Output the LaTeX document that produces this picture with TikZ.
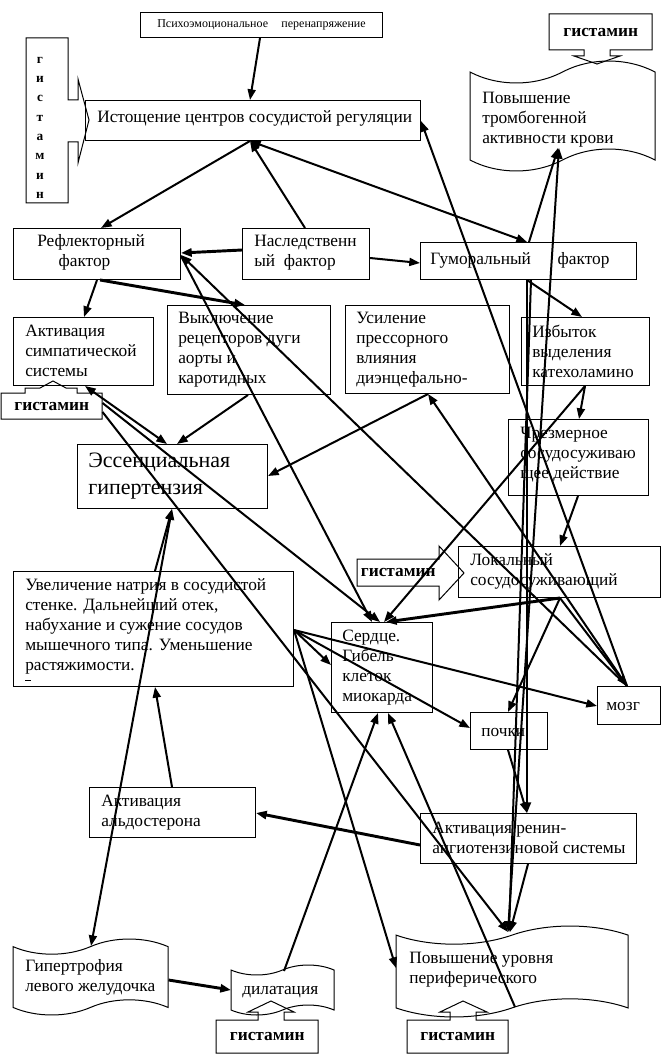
\documentclass[tikz,border=0pt]{standalone}
\usepackage{fontspec}
\setmainfont{Liberation Serif}
\usetikzlibrary{arrows.meta,calc}
\newcommand\fs{\fontsize{13}{15}\selectfont}
\newcommand\mkbox[5]{\node[bx,minimum width=#4*0.75pt,minimum height=#5*0.75pt] (#1) at (#2,#3) {};}
\newcommand\mkghost[5]{\node[ghost,minimum width=#4*0.75pt,minimum height=#5*0.75pt] (#1) at (#2,#3) {};}
\newcommand\mkhis[5]{\node[ghost,htxt,minimum width=#4*0.75pt,minimum height=#5*0.75pt] (#1) at (#2,#3) {гистамин};}
\newcommand\tapeshape[4]{%
 \draw[shp] (#1,{#2+0.1*#4})
  .. controls ({#1+0.15*#3},{#2+0.233*#4}) and ({#1+0.35*#3},{#2+0.233*#4}) .. ({#1+0.5*#3},{#2+0.1*#4})
  .. controls ({#1+0.65*#3},{#2-0.033*#4}) and ({#1+0.85*#3},{#2-0.033*#4}) .. ({#1+#3},{#2+0.1*#4})
  -- ({#1+#3},{#2+0.9*#4})
  .. controls ({#1+0.85*#3},{#2+0.767*#4}) and ({#1+0.65*#3},{#2+0.767*#4}) .. ({#1+0.5*#3},{#2+0.9*#4})
  .. controls ({#1+0.35*#3},{#2+1.033*#4}) and ({#1+0.15*#3},{#2+1.033*#4}) .. (#1,{#2+0.9*#4})
  -- cycle;}
\tikzset{
 bx/.style={draw, line width=0.75pt, inner sep=0pt, anchor=north west},
 ghost/.style={inner sep=0pt, anchor=north west},
 shp/.style={draw, line width=0.75pt},
 txt/.style={anchor=north west, inner sep=0pt, align=left, font=\fs, yshift=10pt, execute at begin node={\rule{0pt}{10pt}}},
 txtL/.style={anchor=north west, inner sep=0pt, align=left, font=\fontsize{16.5}{20}\selectfont, yshift=13pt, execute at begin node={\rule{0pt}{13pt}}},
 htxt/.style={font=\bfseries\fontsize{13}{15}\selectfont},
 arr/.style={line width=1.5pt, -{Triangle[length=8pt,width=6pt]}},
 darr/.style={line width=1.5pt, {Triangle[length=8pt,width=6pt]}-{Triangle[length=8pt,width=6pt]}},
 thk/.style={line width=2.2pt},
}
\begin{document}
\begin{tikzpicture}[x=0.75pt,y=-0.75pt]
\useasboundingbox (0,0) rectangle (662,1055);
\fill[white] (0,0) rectangle (662,1055);
% boxes
\mkbox{psy}{140}{12}{242}{25}
\mkbox{exhaust}{85}{100}{335}{40}
\mkbox{reflex}{13}{228}{167}{51}
\mkbox{hered}{242}{228}{127}{51}
\mkbox{humor}{420}{242}{216}{37}
\mkbox{symp}{13}{317}{140}{68}
\mkbox{recept}{167}{305}{163}{89}
\mkbox{press}{345}{305}{164}{88}
\mkbox{catech}{521}{317}{128}{68}
\mkbox{ess}{77}{444}{190}{64}
\mkbox{vaso}{508}{419}{140}{76}
\mkbox{local}{458}{546}{202}{51}
\mkbox{sodium}{13}{571}{280}{115}
\mkbox{heart}{331}{622}{101}{90}
\mkbox{brain}{597}{686}{63}{38}
\mkbox{kidney}{470}{712}{77}{37}
\mkbox{aldo}{89}{787}{166}{50}
\mkbox{renin}{420}{813}{216}{50}
% tapes
\mkghost{thromb}{470}{61}{185}{110}
\mkghost{hyper}{13}{939}{155}{76}
\mkghost{dilat}{231}{965}{103}{50}
\mkghost{periph}{396}{926}{232}{91}
\tapeshape{470}{61}{185}{110}
\tapeshape{13}{939}{155}{76}
\tapeshape{231}{965}{103}{50}
\tapeshape{396}{926}{232}{91}
% histamine callouts
\mkhis{hisTop}{549}{14}{103}{36}
\draw[shp] (549,14) -- (652,14) -- (652,50) -- (610,50) -- (610,56) -- (620,56) -- (597,64) -- (574,56) -- (584,56) -- (584,50) -- (549,50) -- cycle;
\mkghost{hisVert}{26}{38}{42}{165}
\draw[shp] (26,38) -- (68,38) -- (68,100) -- (78,100) -- (78,79) -- (89,120) -- (78,163) -- (78,142) -- (68,142) -- (68,203) -- (26,203) -- cycle;
\node[txt, anchor=north, align=center, font=\bfseries\fontsize{10}{14.5}\selectfont] (hisVertT) at (40,70) {г\\и\\с\\т\\а\\м\\и\\н};
\mkhis{hisSymp}{1}{393}{101}{26}
\draw[shp] (1,393) -- (25,393) -- (25,388) -- (40,388) -- (53,381) -- (66,388) -- (77,388) -- (77,393) -- (102,393) -- (102,419) -- (1,419) -- cycle;
\mkhis{hisLoc}{357}{559}{82}{27}
\draw[shp] (357,559) -- (439,559) -- (439,546) -- (464,573) -- (439,600) -- (439,586) -- (357,586) -- cycle;
\mkhis{hisDil}{216}{1020}{102}{33}
\draw[shp] (216,1020) -- (258,1020) -- (258,1012) -- (248,1012) -- (271,1001) -- (294,1012) -- (284,1012) -- (284,1020) -- (318,1020) -- (318,1053) -- (216,1053) -- cycle;
\mkhis{hisPer}{407}{1020}{101}{33}
\draw[shp] (407,1020) -- (450,1020) -- (450,1012) -- (440,1012) -- (463,1001) -- (487,1012) -- (476,1012) -- (476,1020) -- (508,1020) -- (508,1053) -- (407,1053) -- cycle;
% texts
\node[inner sep=0pt, font=\fontsize{9}{10}\selectfont] (psyT) at (psy.center) {Психоэмоциональное\hspace{10pt}перенапряжение};
\node[txt] (thrombT) at (482,105) {Повышение\\тромбогенной\\активности крови};
\node[txt] (exhaustT) at (97,122) {Истощение центров сосудистой регуляции};
\node[txt] (reflexT) at (37,248) {Рефлекторный\\\hspace*{16pt}фактор};
\node[txt] (heredT) at (254,248) {Наследственн\\ый\ \ фактор};
\node[txt] (humorT) at (430,264) {Гуморальный\hspace{20pt}фактор};
\node[txt] (sympT) at (25,338) {Активация\\симпатической\\системы};
\node[txt] (receptT) at (178,325) {Выключение\\рецепторов дуги\\аорты и\\каротидных};
\node[txt] (pressT) at (356,325) {Усиление\\прессорного\\влияния\\диэнцефально-};
\node[txt] (catechT) at (532,338) {Избыток\\выделения\\катехоламино};
\node[txtL] (essT) at (88,470) {Эссенциальная\\гипертензия};
\node[txt] (vasoT) at (520,440) {Чрезмерное\\сосудосуживаю\\щее действие};
\node[txt] (localT) at (470,567) {Локальный\\сосудосуживающий};
\node[txt] (sodiumT) at (25,592) {Увеличение натрия в сосудистой\\стенке. Дальнейший отек,\\набухание и сужение сосудов\\мышечного типа. Уменьшение\\растяжимости.};
\draw[line width=0.6pt] (25,680) -- (31,680);
\node[txt] (heartT) at (342,643) {Сердце.\\Гибель\\клеток\\миокарда};
\node[txt] (brainT) at (606,710) {мозг};
\node[txt] (kidneyT) at (481,736) {почки};
\node[txt] (aldoT) at (101,808) {Активация\\альдостерона};
\node[txt] (reninT) at (432,835) {Активация ренин-\\ангиотензиновой системы};
\node[txt] (hyperT) at (25,973) {Гипертрофия\\левого желудочка};
\node[txt] (dilatT) at (242,994) {дилатация};
\node[txt] (periphT) at (409,965) {Повышение уровня\\периферического};
% connectors
\draw[arr] (psy.south -| 260,0) -- (exhaust.north -| 250,0);
\draw[arr] (exhaust.south -| 250,0) -- (reflex.north -| 101,0);
\draw[arr] (hered.north -| 305,0) -- (exhaust.south -| 250,0);
\draw[darr] (exhaust.south -| 250,0) -- (humor.north -| 527,0);
\draw[arr] (brain.north -| 627,0) -- (exhaust.east |- 0,121);
\draw[arr] (humor.north -| 529,0) -- ($(thromb.north west)+(88,87)$);
\draw[darr] ($(periph.north west)+(112,6)$) -- ($(thromb.north west)+(89,87)$);
\draw[arr] (hered.east |- 0,258) -- (humor.west |- 0,263);
\draw[arr,thk] (hered.west |- 0,250) -- (reflex.east |- 0,253);
\draw[arr] (reflex.south -| 97,0) -- (symp.north -| 84,0);
\draw[arr,thk] (reflex.south -| 100,0) -- (recept.north -| 245,0);
\draw[arr] (humor.south -| 527,0) -- (catech.north -| 582,0);
\draw[arr] (catech.south -| 585,0) -- (vaso.north -| 579,0);
\draw[arr] (catech.south -| 585,0) -- (heart.north -| 384,0);
\draw[arr] (vaso.south -| 578,0) -- (local.north -| 560,0);
\draw[arr,thk] (local.south -| 560,0) -- (heart.north -| 386,0);
\draw[arr] (local.south -| 560,0) -- (kidney.north -| 508,0);
\draw[arr] (local.south -| 560,0) -- (brain.north -| 627,0);
\draw[arr] (humor.south -| 527,0) -- (renin.north -| 527,0);
\draw[arr] (humor.south -| 531,0) -- ($(periph.north west)+(113,6)$);
\draw[arr] (kidney.south -| 508,0) -- (renin.north -| 527,0);
\draw[arr] (renin.south -| 528,0) -- ($(periph.north west)+(114,6)$);
\draw[arr,thk] (renin.west |- 0,845) -- (aldo.east |- 0,813);
\draw[arr] (aldo.north -| 172,0) -- (sodium.south -| 155,0);
\draw[arr] (sodium.north -| 155,0) -- (ess.south -| 172,0);
\draw[darr] (ess.south -| 172,0) -- ($(hyper.north west)+(78,7)$);
\draw[arr,thk] (hyper.east |- 0,980) -- (dilat.west |- 0,990);
\draw[arr] ($(dilat.north west)+(53,6)$) -- (heart.south -| 378,0);
\draw[arr] ($(periph.north west)+(119,81)$) -- (heart.south -| 388,0);
\draw[arr] (sodium.east |- 0,630) -- (heart.west |- 0,665);
\draw[arr] (sodium.east |- 0,630) -- (kidney.west |- 0,728);
\draw[arr] (sodium.east |- 0,630) -- (brain.west |- 0,706);
\draw[arr] (sodium.east |- 0,630) -- (periph.west |- 0,968);
\draw[darr] (symp.south -| 85,0) -- (ess.north -| 167,0);
\draw[arr] (hisSymp.east |- 0,403) -- (heart.north -| 380,0);
\draw[arr] (hisSymp.east |- 0,412) -- ($(periph.north west)+(112,6)$);
\draw[arr] (recept.south -| 248,0) -- (ess.north -| 177,0);
\draw[arr] (press.south -| 428,0) -- (ess.east |- 0,476);
\draw[arr] (brain.north -| 627,0) -- (press.south -| 428,0);
\draw[arr] (reflex.east |- 0,256) -- (heart.north -| 372,0);
\draw[arr] (brain.north -| 627,0) -- (reflex.east |- 0,255);
\end{tikzpicture}
\end{document}
